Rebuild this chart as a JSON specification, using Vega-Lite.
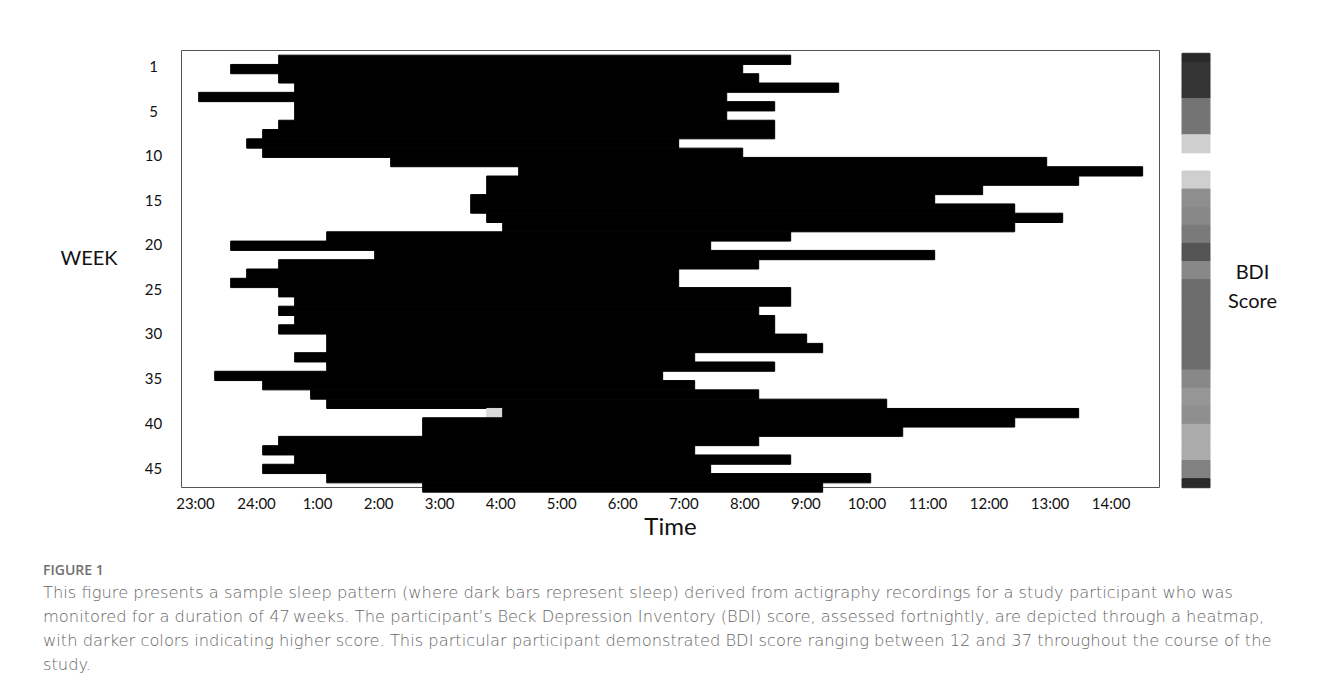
{
  "$schema": "https://vega.github.io/schema/vega-lite/v6.json",
  "padding": {"left": 43, "top": 49, "right": 10, "bottom": 10},
  "background": "white",
  "config": {"view": {"stroke": null}, "font": "Lato", "concat": {"spacing": 21}, "rect": {"binSpacing": 0}},
  "title": {
    "text": "FIGURE 1",
    "subtitle": [
      "This figure presents a sample sleep pattern (where dark bars represent sleep) derived from actigraphy recordings for a study participant who was",
      "monitored for a duration of 47\u2009weeks. The participant\u2019s Beck Depression Inventory (BDI) score, assessed fortnightly, are depicted through a heatmap,",
      "with darker colors indicating higher score. This particular participant demonstrated BDI score ranging between 12 and 37 throughout the course of the",
      "study."
    ],
    "orient": "bottom",
    "anchor": "start",
    "frame": "group",
    "font": "Open Sans",
    "fontSize": 14,
    "fontWeight": 600,
    "color": "#707070",
    "subtitleFont": "DejaVu Sans",
    "subtitleFontSize": 16.3,
    "subtitleFontWeight": 300,
    "subtitleColor": "#666666",
    "subtitleLineHeight": 24,
    "subtitlePadding": 7,
    "offset": 24,
    "dx": -138
  },
  "datasets": {
    "sleep": [
      {"week": 1, "start": 24.371, "end": 32.759, "state": "sleep"},
      {"week": 2, "start": 23.585, "end": 31.973, "state": "sleep"},
      {"week": 3, "start": 24.371, "end": 32.235, "state": "sleep"},
      {"week": 4, "start": 24.633, "end": 33.545, "state": "sleep"},
      {"week": 5, "start": 23.061, "end": 31.711, "state": "sleep"},
      {"week": 6, "start": 24.633, "end": 32.497, "state": "sleep"},
      {"week": 7, "start": 24.633, "end": 31.711, "state": "sleep"},
      {"week": 8, "start": 24.371, "end": 32.497, "state": "sleep"},
      {"week": 9, "start": 24.109, "end": 32.497, "state": "sleep"},
      {"week": 10, "start": 23.847, "end": 30.924, "state": "sleep"},
      {"week": 11, "start": 24.109, "end": 31.973, "state": "sleep"},
      {"week": 12, "start": 26.206, "end": 36.953, "state": "sleep"},
      {"week": 13, "start": 28.303, "end": 38.525, "state": "sleep"},
      {"week": 14, "start": 27.779, "end": 37.477, "state": "sleep"},
      {"week": 15, "start": 27.779, "end": 35.904, "state": "sleep"},
      {"week": 16, "start": 27.517, "end": 35.118, "state": "sleep"},
      {"week": 17, "start": 27.517, "end": 36.429, "state": "sleep"},
      {"week": 18, "start": 27.779, "end": 37.215, "state": "sleep"},
      {"week": 19, "start": 28.041, "end": 36.429, "state": "sleep"},
      {"week": 20, "start": 25.158, "end": 32.759, "state": "sleep"},
      {"week": 21, "start": 23.585, "end": 31.448, "state": "sleep"},
      {"week": 22, "start": 25.944, "end": 35.118, "state": "sleep"},
      {"week": 23, "start": 24.371, "end": 32.235, "state": "sleep"},
      {"week": 24, "start": 23.847, "end": 30.924, "state": "sleep"},
      {"week": 25, "start": 23.585, "end": 30.924, "state": "sleep"},
      {"week": 26, "start": 24.371, "end": 32.759, "state": "sleep"},
      {"week": 27, "start": 24.633, "end": 32.759, "state": "sleep"},
      {"week": 28, "start": 24.371, "end": 32.235, "state": "sleep"},
      {"week": 29, "start": 24.633, "end": 32.497, "state": "sleep"},
      {"week": 30, "start": 24.371, "end": 32.497, "state": "sleep"},
      {"week": 31, "start": 25.158, "end": 33.021, "state": "sleep"},
      {"week": 32, "start": 25.158, "end": 33.283, "state": "sleep"},
      {"week": 33, "start": 24.633, "end": 31.186, "state": "sleep"},
      {"week": 34, "start": 25.158, "end": 32.497, "state": "sleep"},
      {"week": 35, "start": 23.323, "end": 30.662, "state": "sleep"},
      {"week": 36, "start": 24.109, "end": 31.186, "state": "sleep"},
      {"week": 37, "start": 24.895, "end": 32.235, "state": "sleep"},
      {"week": 38, "start": 25.158, "end": 34.332, "state": "sleep"},
      {"week": 39, "start": 27.779, "end": 28.041, "state": "nonwear"},
      {"week": 39, "start": 28.041, "end": 37.477, "state": "sleep"},
      {"week": 40, "start": 26.730, "end": 36.429, "state": "sleep"},
      {"week": 41, "start": 26.730, "end": 34.594, "state": "sleep"},
      {"week": 42, "start": 24.371, "end": 32.235, "state": "sleep"},
      {"week": 43, "start": 24.109, "end": 31.186, "state": "sleep"},
      {"week": 44, "start": 24.633, "end": 32.759, "state": "sleep"},
      {"week": 45, "start": 24.109, "end": 31.448, "state": "sleep"},
      {"week": 46, "start": 25.158, "end": 34.070, "state": "sleep"},
      {"week": 47, "start": 26.730, "end": 33.283, "state": "sleep"}
    ],
    "bdi": [
      {"from": 0, "to": 1, "bdi": 37},
      {"from": 1, "to": 3, "bdi": 35},
      {"from": 3, "to": 5, "bdi": 35},
      {"from": 5, "to": 7, "bdi": 25},
      {"from": 7, "to": 9, "bdi": 25},
      {"from": 9, "to": 11, "bdi": 12},
      {"from": 13, "to": 15, "bdi": 12},
      {"from": 15, "to": 17, "bdi": 21},
      {"from": 17, "to": 19, "bdi": 22},
      {"from": 19, "to": 21, "bdi": 24},
      {"from": 21, "to": 23, "bdi": 30},
      {"from": 23, "to": 25, "bdi": 22},
      {"from": 25, "to": 27, "bdi": 26},
      {"from": 27, "to": 29, "bdi": 26},
      {"from": 29, "to": 31, "bdi": 26},
      {"from": 31, "to": 33, "bdi": 26},
      {"from": 33, "to": 35, "bdi": 26},
      {"from": 35, "to": 37, "bdi": 22},
      {"from": 37, "to": 39, "bdi": 20},
      {"from": 39, "to": 41, "bdi": 21},
      {"from": 41, "to": 43, "bdi": 17},
      {"from": 43, "to": 45, "bdi": 17},
      {"from": 45, "to": 47, "bdi": 23},
      {"from": 47, "to": 48, "bdi": 37}
    ]
  },
  "hconcat": [
    {
      "width": 978,
      "height": 437,
      "data": {"name": "sleep"},
      "view": {"stroke": "#555555", "strokeWidth": 1},
      "mark": {"type": "rect", "strokeWidth": 1, "binSpacing": 0},
      "encoding": {
        "x": {
          "field": "start",
          "type": "quantitative",
          "scale": {"domain": [22.771, 38.793], "nice": false, "zero": false},
          "axis": {
            "values": [23, 24, 25, 26, 27, 28, 29, 30, 31, 32, 33, 34, 35, 36, 37, 38],
            "labelExpr": "datum.value > 24 ? (datum.value - 24) + ':00' : datum.value + ':00'",
            "labelFontSize": 15,
            "labelColor": "#111111",
            "labelPadding": 9,
            "labelFlush": false,
            "labelOverlap": false,
            "ticks": false,
            "tickSize": 0,
            "domain": false,
            "grid": false,
            "title": "Time",
            "titleFontSize": 24,
            "titleFontWeight": "normal",
            "titleColor": "#111111",
            "titlePadding": 4
          }
        },
        "x2": {"field": "end"},
        "y": {
          "field": "week",
          "type": "quantitative",
          "bin": {"extent": [0.5, 47.5], "step": 1},
          "scale": {"domain": [0.5, 47.5], "reverse": true, "nice": false, "zero": false},
          "axis": {
            "values": [2.221, 7.061, 11.9, 16.633, 21.472, 26.205, 31.044, 35.884, 40.724, 45.564],
            "labelExpr": "datum.value < 4 ? '1' : format(round((datum.value - 2.221) / 4.818) * 5, 'd')",
            "labelFontSize": 15,
            "labelColor": "#111111",
            "labelAlign": "center",
            "labelBaseline": "middle",
            "labelPadding": 28,
            "labelOverlap": false,
            "ticks": false,
            "tickSize": 0,
            "domain": false,
            "grid": false,
            "title": "WEEK",
            "titleAngle": 0,
            "titleAlign": "right",
            "titleBaseline": "middle",
            "titleX": -64,
            "titleY": 208,
            "titleFontSize": 20,
            "titleFontWeight": "normal",
            "titleColor": "#111111"
          }
        },
        "color": {
          "field": "state",
          "type": "nominal",
          "scale": {"domain": ["sleep", "nonwear"], "range": ["#000000", "#d9d9d9"]},
          "legend": null
        },
        "stroke": {
          "field": "state",
          "type": "nominal",
          "scale": {"domain": ["sleep", "nonwear"], "range": ["#000000", "#d9d9d9"]},
          "legend": null
        }
      }
    },
    {
      "width": 28,
      "height": 437,
      "data": {"name": "bdi"},
      "mark": {"type": "rect", "strokeWidth": 1},
      "encoding": {
        "y": {
          "field": "from",
          "type": "quantitative",
          "scale": {"domain": [-0.365, 47.92], "reverse": true, "nice": false, "zero": false},
          "axis": {
            "orient": "right",
            "labels": false,
            "ticks": false,
            "domain": false,
            "grid": false,
            "title": ["BDI", "Score"],
            "titleAngle": 0,
            "titleAlign": "center",
            "titleBaseline": "middle",
            "titleX": 42,
            "titleY": 222,
            "titleFontSize": 20,
            "titleLineHeight": 29,
            "titleFontWeight": "normal",
            "titleColor": "#111111"
          }
        },
        "y2": {"field": "to"},
        "color": {
          "field": "bdi",
          "type": "quantitative",
          "scale": {"domain": [12, 37], "range": ["#cfcfcf", "#2a2a2a"]},
          "legend": null
        },
        "stroke": {
          "field": "bdi",
          "type": "quantitative",
          "scale": {"domain": [12, 37], "range": ["#cfcfcf", "#2a2a2a"]},
          "legend": null
        }
      }
    }
  ],
  "resolve": {"scale": {"x": "independent", "y": "independent", "color": "independent", "stroke": "independent"}}
}
